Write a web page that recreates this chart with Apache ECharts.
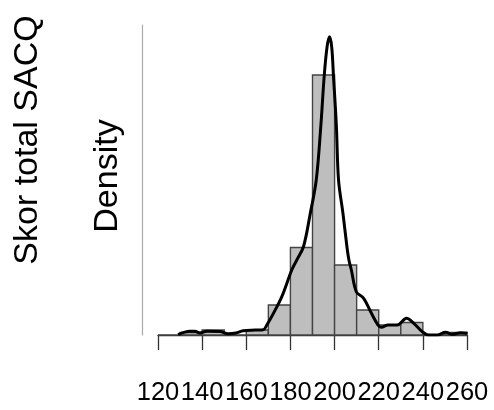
<!DOCTYPE html>
<html>
<head>
<meta charset="utf-8">
<script src="https://cdn.jsdelivr.net/npm/echarts@6/dist/echarts.min.js"></script>
<style>
  html, body { margin: 0; padding: 0; background: #fff; }
  #chart { width: 494px; height: 410px; }
</style>
</head>
<body>
<div id="chart"></div>
<script>
// Histogram bins of the SACQ total score (lower edges, width 10) and their densities
const binStarts = [120, 130, 140, 150, 160, 170, 180, 190, 200, 210, 220, 230, 240, 250];
const binWidth = 10;
const binDensity = [0, 0.00049, 0.00098, 0, 0.00098, 0.00588, 0.01716, 0.05098, 0.01373, 0.0049, 0.00196, 0.00245, 0, 0.00049];

// Kernel density estimate: score values and density values
const kdeScore = [129.1, 134.4, 136.7, 139.0, 142.1, 148.0, 151.8, 155.3, 158.6, 164.0, 167.7, 169.3, 172.3, 176.1, 180.6, 182.9, 185.9, 189.0, 191.7, 193.8, 195.3, 196.6, 197.7, 198.7, 199.5, 200.8, 201.8, 203.8, 205.6, 206.5, 207.6, 209.9, 213.1, 216.7, 219.7, 221.2, 224.2, 228.4, 232.6, 235.9, 239.7, 242.6, 246.5, 250.3, 253.4, 257.1, 260.2];
const kdeDensity = [0.00006, 0.00073, 0.00073, 0.00039, 0.00073, 0.00069, 0.00025, 0.00039, 0.00084, 0.00098, 0.00104, 0.00196, 0.00425, 0.00751, 0.01275, 0.01471, 0.01731, 0.02386, 0.03039, 0.04118, 0.05078, 0.0565, 0.05849, 0.0565, 0.05078, 0.04118, 0.03039, 0.02386, 0.01731, 0.01471, 0.01275, 0.00843, 0.00725, 0.00425, 0.00196, 0.00151, 0.00196, 0.00196, 0.00327, 0.00229, 0.00065, 0, 0, 0.00053, 0.00014, 0.00045, 0.00033];

// Axis ticks
const xTicks = [120, 140, 160, 180, 200, 220, 240, 260];
const yMax = 0.0608;

const histData = binStarts.map((s, i) => [s, s + binWidth, binDensity[i]]);
const kdeData = kdeScore.map((v, i) => [v, kdeDensity[i]]);

const FONT = '"Liberation Sans", Arial, sans-serif';
const chart = echarts.init(document.getElementById('chart'), null, { renderer: 'canvas' });

chart.setOption({
  animation: false,
  backgroundColor: '#ffffff',
  grid: { left: 158, right: 27, top: 25, bottom: 75, containLabel: false },
  xAxis: {
    type: 'value',
    min: xTicks[0],
    max: xTicks[xTicks.length - 1],
    interval: 20,
    offset: 16,
    axisLine: { show: true, lineStyle: { color: '#333', width: 1.3 } },
    axisTick: { show: true, length: 15, lineStyle: { color: '#333', width: 1.3 } },
    axisLabel: {
      show: true, margin: 29, fontSize: 25.5, color: '#000', fontFamily: FONT,
      showMinLabel: true, showMaxLabel: true
    },
    splitLine: { show: false }
  },
  yAxis: {
    type: 'value',
    min: 0,
    max: yMax,
    offset: 16,
    axisLine: { show: true, lineStyle: { color: '#aaa', width: 1.2 } },
    axisTick: { show: false },
    axisLabel: { show: false },
    splitLine: { show: false }
  },
  graphic: [
    {
      type: 'text', x: 28, y: 140, rotation: Math.PI / 2,
      style: { text: 'Skor total SACQ', fontSize: 34, fontFamily: FONT, fill: '#000', align: 'center', verticalAlign: 'middle' }
    },
    {
      type: 'text', x: 108, y: 176, rotation: Math.PI / 2,
      style: { text: 'Density', fontSize: 34, fontFamily: FONT, fill: '#000', align: 'center', verticalAlign: 'middle' }
    }
  ],
  series: [
    {
      type: 'custom',
      data: histData,
      encode: { x: [0, 1], y: 2 },
      renderItem: function (params, api) {
        const p0 = api.coord([api.value(0), 0]);
        const p1 = api.coord([api.value(1), api.value(2)]);
        return {
          type: 'rect',
          shape: { x: p0[0], y: p1[1], width: p1[0] - p0[0], height: p0[1] - p1[1] },
          style: { fill: '#bebebe', stroke: '#444', lineWidth: 1.4 }
        };
      },
      z: 1
    },
    {
      type: 'line',
      data: kdeData,
      smooth: 0.35,
      showSymbol: false,
      symbol: 'none',
      lineStyle: { color: '#000', width: 3 },
      z: 3
    }
  ]
});
</script>
</body>
</html>
